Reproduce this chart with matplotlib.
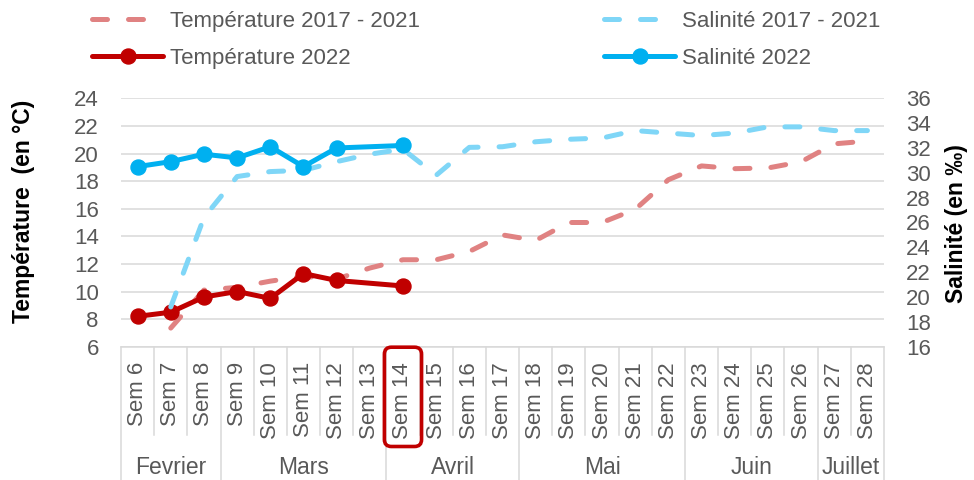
import matplotlib
matplotlib.use('Agg')
import matplotlib.pyplot as plt
from matplotlib.patches import FancyBboxPatch
from matplotlib.transforms import blended_transform_factory

plt.rcParams['font.family'] = ['Liberation Sans', 'DejaVu Sans']

weeks = ["Sem 6", "Sem 7", "Sem 8", "Sem 9", "Sem 10", "Sem 11", "Sem 12", "Sem 13",
         "Sem 14", "Sem 15", "Sem 16", "Sem 17", "Sem 18", "Sem 19", "Sem 20", "Sem 21",
         "Sem 22", "Sem 23", "Sem 24", "Sem 25", "Sem 26", "Sem 27", "Sem 28"]
months = ["Fevrier", "Mars", "Avril", "Mai", "Juin", "Juillet"]
month_weeks = [3, 5, 4, 5, 4, 2]

temp_hist = [None, 7.35, 10.1, 10.3, 10.75, 11.1, 10.9, 11.7, 12.3, 12.3, 12.9, 14.1,
             13.7, 15.0, 15.0, 15.95, 18.1, 19.1, 18.9, 18.95, 19.4, 20.7, 20.9]
sal_hist = [None, 19.2, 26.4, 29.7, 30.1, 30.2, 30.9, 31.5, 31.9, 29.8, 32.05, 32.1,
            32.5, 32.7, 32.8, 33.4, 33.2, 33.0, 33.2, 33.7, 33.7, 33.4, 33.4]
temp_2022 = [8.2, 8.5, 9.6, 10.0, 9.5, 11.3, 10.8, None, 10.4]
sal_2022 = [30.5, 30.9, 31.5, 31.2, 32.1, 30.5, 32.0, None, 32.2]

highlight_week = "Sem 14"

C_TH = '#E08282'
C_SH = '#7FD6F7'
C_T22 = '#C00000'
C_S22 = '#00B0F0'
GRID = '#D9D9D9'
TXT = '#595959'

def valid(vals):
    xs = [i for i, v in enumerate(vals) if v is not None]
    ys = [v for v in vals if v is not None]
    return xs, ys

W, H = 974, 480
fig = plt.figure(figsize=(W / 100, H / 100), dpi=100)
L, R, T, B = 121, 884, 98.3, 346.7
ax = fig.add_axes([L / W, 1 - B / H, (R - L) / W, (B - T) / H])
ax2 = ax.twinx()

n = len(weeks)
ax.set_xlim(-0.5, n - 0.5)
ax.set_ylim(6, 24)
ax.set_yticks(range(6, 25, 2))
ax2.set_ylim(16, 36)
ax2.set_yticks(range(16, 37, 2))

ax.yaxis.grid(True, color=GRID, linewidth=1.1)
ax.set_axisbelow(True)
for a in (ax, ax2):
    for s in a.spines.values():
        s.set_visible(False)
ax.spines['bottom'].set_visible(True)
ax.spines['bottom'].set_color(GRID)
ax.spines['bottom'].set_linewidth(1.1)

lw = 3.6
ms = 10.8
x, y = valid(temp_hist)
l_th, = ax.plot(x, y, color=C_TH, lw=lw, dashes=(3, 4.2), dash_capstyle='round',
                label='Température 2017 - 2021')
x, y = valid(temp_2022)
l_t22, = ax.plot(x, y, color=C_T22, lw=lw, marker='o', markersize=ms,
                 solid_capstyle='round', label='Température 2022')
x, y = valid(sal_hist)
l_sh, = ax2.plot(x, y, color=C_SH, lw=lw, dashes=(3, 4.2), dash_capstyle='round',
                 label='Salinité 2017 - 2021')
x, y = valid(sal_2022)
l_s22, = ax2.plot(x, y, color=C_S22, lw=lw, marker='o', markersize=ms,
                  solid_capstyle='round', label='Salinité 2022')

fs = 16
ax.set_xticks(range(n))
ax.set_xticklabels(weeks, rotation=90, fontsize=fs, color=TXT)
ax.tick_params(axis='x', length=0, pad=11)
ax.tick_params(axis='y', length=0, pad=16, labelsize=fs, labelcolor=TXT)
ax2.tick_params(axis='y', length=0, pad=16, labelsize=fs, labelcolor=TXT)

# category separators
trans = blended_transform_factory(ax.transData, ax.transAxes)
axh = B - T
week_bot = -(435 - B) / axh
month_bot = -(H - B) / axh
bounds = [-0.5]
for m in month_weeks:
    bounds.append(bounds[-1] + m)
for k in range(n + 1):
    xb = k - 0.5
    yb = month_bot if xb in bounds else week_bot
    ax.plot([xb, xb], [0, yb], color=GRID, lw=1.1, transform=trans, clip_on=False)
month_y = -(468 - B) / axh
for i, m in enumerate(months):
    xc = (bounds[i] + bounds[i + 1]) / 2
    ax.text(xc, month_y, m, transform=trans, ha='center', va='center',
            fontsize=fs + 0.5, color=TXT)

# highlight box around the week label
fig.canvas.draw()
hi = weeks.index(highlight_week)
x0 = ax.transData.transform((hi - 0.56, 0))[0]
x1 = ax.transData.transform((hi + 0.56, 0))[0]
y1 = ax.transAxes.transform((0, -0.002))[1]
y0 = ax.transAxes.transform((0, -(446.5 - B) / axh))[1]
box = FancyBboxPatch((x0, y0), x1 - x0, y1 - y0,
                     boxstyle='round,pad=0,rounding_size=7',
                     transform=None, fill=False, edgecolor=C_T22, linewidth=2.6)
fig.add_artist(box)

fig.text(24 / W, 1 - 211 / H, 'Température  (en °C)', rotation=90, ha='center',
         va='center', fontsize=fs + 0.5, fontweight='bold', color='black')
fig.text(957 / W, 1 - 224 / H, 'Salinité (en ‰)', rotation=90, ha='center',
         va='center', fontsize=fs + 0.5, fontweight='bold', color='black')

fig.legend(handles=[l_th, l_t22, l_sh, l_s22], ncol=2, loc='upper left',
           bbox_to_anchor=(92 / W, 1 - 11 / H), frameon=False, fontsize=fs,
           handlelength=3.2, handletextpad=0.3, columnspacing=8.3,
           labelspacing=0.72, borderpad=0, borderaxespad=0, labelcolor=TXT)

fig.savefig('out.png', dpi=100)
